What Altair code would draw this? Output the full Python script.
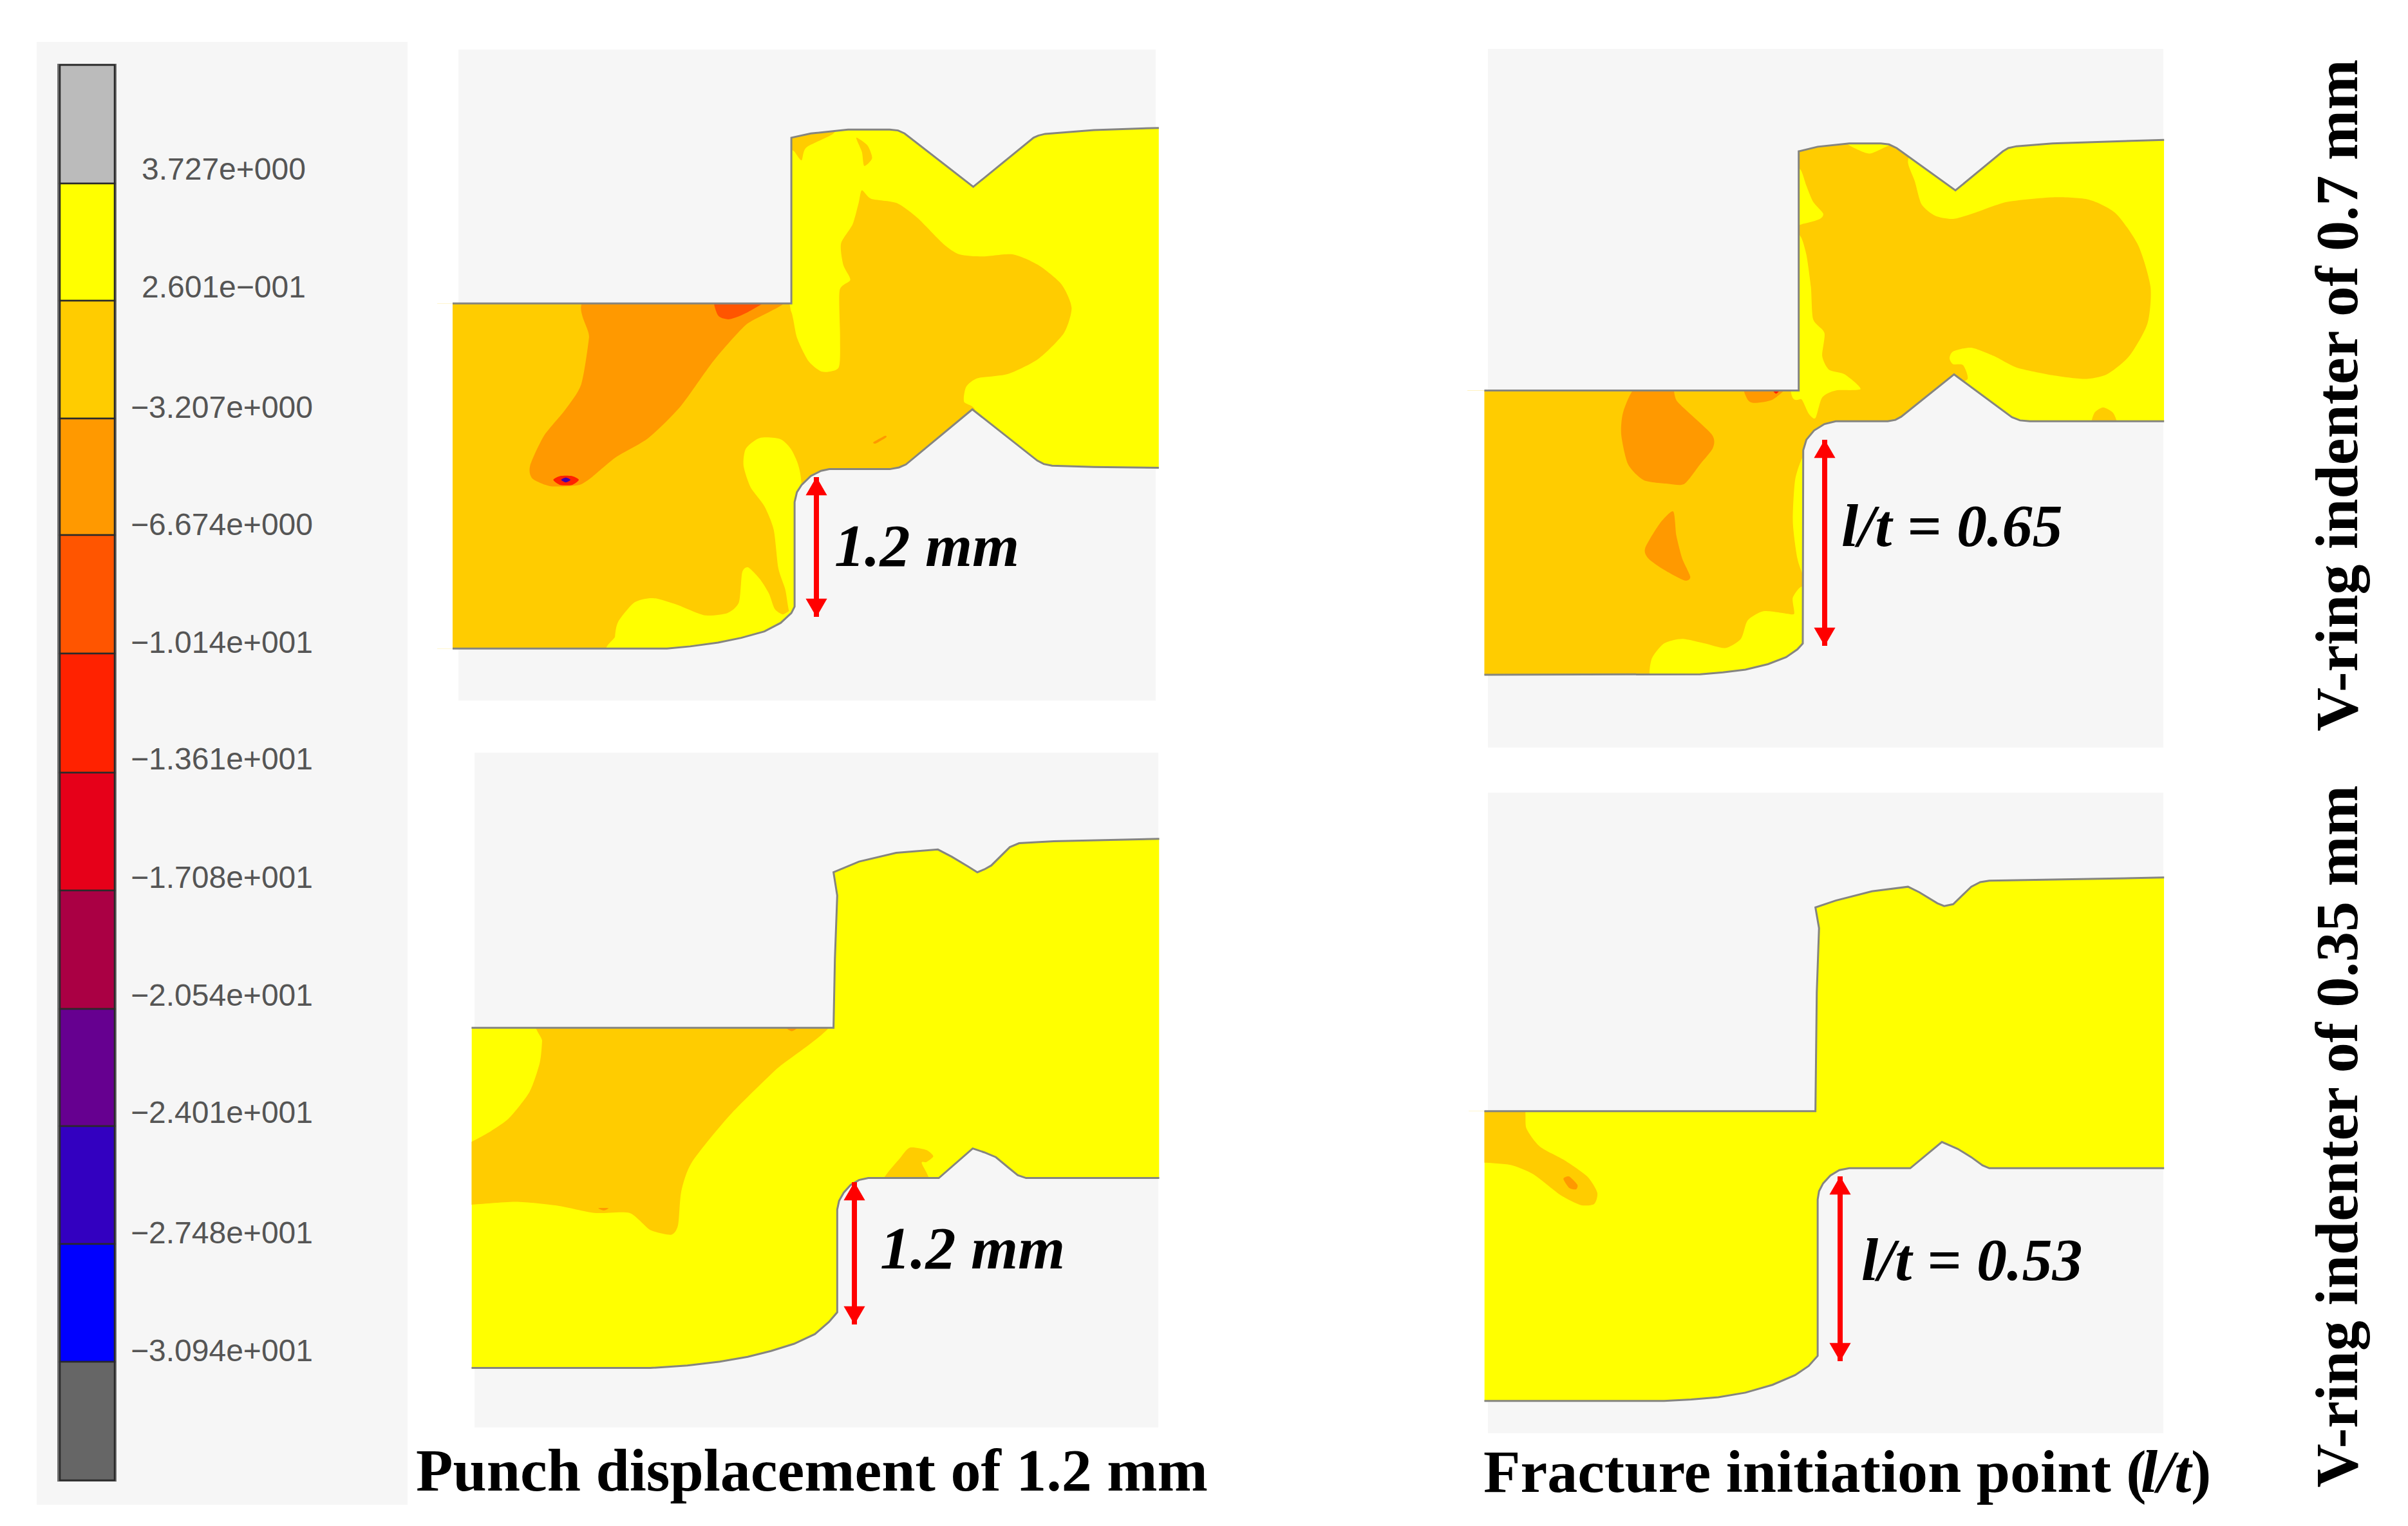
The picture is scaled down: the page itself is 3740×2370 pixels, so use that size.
import altair as alt
import pandas as pd

YEL, AMB, ORG, ROR, RED, PUR = "#FFFF00", "#FFCC00", "#FF9900", "#FF5500", "#FF2200", "#4400AA"
BG = "#F6F6F6"

# legend
LEG_COLORS = ["#BBBBBB", "#FFFF00", "#FFCC00", "#FF9900", "#FF5500", "#FF2200", "#E60019",
              "#AA0044", "#660090", "#3300C0", "#0000FF", "#666666"]
LEG_EDGES = [101, 285, 467, 650, 831, 1015, 1200, 1383, 1567, 1749, 1932, 2115, 2299]
LEG_LABELS = ["3.727e+000", "2.601e\u2212001", "\u22123.207e+000", "\u22126.674e+000", "\u22121.014e+001",
              "\u22121.361e+001", "\u22121.708e+001", "\u22122.054e+001", "\u22122.401e+001", "\u22122.748e+001",
              "\u22123.094e+001"]
LEG_LABEL_Y = [265, 448, 635, 817, 1000, 1181, 1365, 1548, 1730, 1917, 2100]
LEG_LABEL_X = [220, 220, 203, 203, 203, 203, 203, 203, 203, 203, 203]

# panel frames: (x0, y0, fx, fy) reading frame, background rectangle (image pixels)
P1_FRAME = (690, 60, 0.7207, 0.6633)
P2_FRAME = (2290, 60, 0.7015, 0.7143)
P3_FRAME = (700, 1150, 0.7207, 0.7526)
P4_FRAME = (2290, 1220, 0.7015, 0.7143)
P1_BG = (712, 77, 1795, 1088)
P2_BG = (2311, 76, 3360, 1161)
P3_BG = (737, 1169, 1799, 2217)
P4_BG = (2311, 1231, 3360, 2226)

P1_TOP = [(18,620),(748,620),(748,232),(790,222),(870,213),(960,213),(978,215),(992,222),(1140,347),(1270,232),(1280,227),(1295,223),(1400,214),(1540,209)]
P1_BOTTOM = [(1540,1005),(1400,1003),(1310,1000),(1292,996),(1278,988),(1138,868),(995,997),(980,1004),(960,1008),(830,1008),(812,1012),(790,1024),(770,1045),(760,1062),(755,1085),(755,1330),(748,1345),(725,1368),(690,1388),(640,1403),(590,1414),(530,1423),(480,1428),(18,1428)]
P1_CONTOURS = [
    (AMB, [(-10,600),(100,600),(300,600),(500,600),(720,600),(748,640),(760,700),(785,755),(815,780),(850,770),(853,700),(852,590),(875,565),(860,530),(855,480),(880,435),(893,385),(900,355),(920,375),(975,385),(1020,420),(1075,480),(1110,505),(1160,510),(1225,505),(1280,530),(1330,575),(1352,630),(1335,690),(1280,750),(1215,785),(1150,795),(1125,815),(1120,850),(1140,880),(1000,1030),(830,1030),(780,1060),(770,1100),(770,1340),(700,1400),(480,1450),(300,1450),(100,1450),(-10,1450),(-10,1300),(-10,1100),(-10,900),(-10,750)]),
    (YEL, [(770,1045),(752,970),(725,938),(680,935),(650,960),(645,1000),(660,1050),(690,1095),(710,1150),(720,1240),(735,1290),(745,1345),(770,1345)]),
    (YEL, [(370,1440),(368,1400),(375,1365),(410,1320),(450,1310),(500,1325),(560,1350),(610,1345),(635,1320),(642,1250),(655,1238),(680,1265),(700,1300),(712,1335),(730,1348),(752,1335),(770,1345),(760,1440)]),
    (AMB, [(745,225),(840,210),(835,225),(780,255),(770,285),(755,265),(745,255)]),
    (AMB, [(888,232),(912,250),(922,280),(905,298),(900,265)]),
    (ORG, [(317,605),(312,700),(295,810),(260,870),(215,930),(185,1000),(190,1030),(230,1048),(290,1045),(320,1025),(370,980),(440,935),(510,860),(580,755),(650,670),(730,605)]),
    (ROR, [(587,605),(590,648),(615,657),(655,640),(700,605)]),
    (RED, [(235,1033),(250,1024),(275,1024),(290,1033),(275,1045),(250,1045)]),
    (PUR, [(252,1033),(262,1028),(272,1033),(262,1039)]),
    (ORG, [(925,945),(950,930),(952,934),(930,948)]),
]

P2_TOP = [(22,765),(718,765),(718,245),(760,235),(830,228),(900,228),(918,230),(935,238),(1065,330),(1170,245),(1182,238),(1200,234),(1280,228),(1527,220)]
P2_BOTTOM = [(1527,832),(1380,832),(1230,832),(1208,830),(1190,823),(1062,730),(945,822),(932,829),(915,832),(800,832),(775,838),(752,852),(735,872),(728,895),(727,1315),(715,1328),(690,1345),(650,1360),(600,1372),(550,1378),(500,1382),(22,1383)]
P2_CONTOURS = [
    (AMB, [(-10,745),(100,745),(300,745),(500,745),(700,745),(700,500),(700,215),(830,215),(960,215),(960,270),(975,310),(990,360),(1020,385),(1060,392),(1110,378),(1180,355),(1280,345),(1360,350),(1420,380),(1470,450),(1497,540),(1490,620),(1450,690),(1400,730),(1350,740),(1280,732),(1200,715),(1150,690),(1100,672),(1060,680),(1052,695),(1060,708),(1082,710),(1092,740),(1062,760),(1000,860),(900,860),(760,870),(760,1100),(760,1300),(600,1400),(300,1400),(100,1400),(0,1400),(-10,1300),(-10,1200),(-10,1000),(-10,850)]),
    (YEL, [(722,285),(735,320),(750,355),(772,380),(765,392),(730,402),(700,400),(700,280)]),
    (YEL, [(722,430),(735,470),(745,540),(750,610),(775,640),(770,690),(785,720),(820,730),(855,762),(800,765),(770,780),(755,825),(740,815),(725,785),(700,760),(700,430)]),
    (YEL, [(727,910),(710,960),(705,1050),(715,1130),(730,1170),(745,1170),(745,910)]),
    (YEL, [(395,1400),(392,1350),(420,1315),(460,1305),(510,1315),(555,1325),(590,1305),(605,1265),(640,1245),(690,1250),(708,1250),(705,1215),(730,1195),(750,1330),(700,1365),(650,1385),(500,1400)]),
    (YEL, [(825,225),(850,242),(875,250),(905,238),(925,225)]),
    (ORG, [(360,755),(435,755),(450,790),(525,860),(528,890),(500,925),(465,968),(430,968),(375,960),(340,925),(325,860),(330,810)]),
    (ORG, [(440,1028),(447,1080),(460,1130),(478,1170),(465,1178),(420,1155),(385,1130),(378,1108),(410,1055)]),
    (ORG, [(600,755),(690,755),(660,785),(620,792),(605,785)]),
    (RED, [(655,755),(682,755),(668,772)]),
    (AMB, [(1368,845),(1372,815),(1392,802),(1415,815),(1422,845)]),
]

P3_TOP = [(45,593),(825,593),(828,450),(833,320),(825,272),(880,250),(960,232),(1050,225),(1080,240),(1115,260),(1135,272),(1150,266),(1165,258),(1205,220),(1225,212),(1300,208),(1527,203)]
P3_BOTTOM = [(1527,903),(1240,903),(1222,897),(1200,880),(1175,860),(1150,850),(1125,842),(1052,903),(900,903),(880,907),(862,917),(847,933),(837,950),(833,968),(833,1180),(815,1200),(785,1225),(740,1245),(690,1260),(640,1272),(580,1282),(510,1290),(430,1295),(45,1295)]
P3_CONTOURS = [
    (AMB, [(198,575),(197,620),(192,665),(170,725),(125,780),(80,810),(45,828),(10,840),(10,958),(45,958),(140,952),(230,960),(310,975),(385,975),(430,1010),(475,1020),(490,1000),(497,930),(520,870),(600,775),(700,680),(820,575),(500,575)]),
    (AMB, [(930,915),(970,860),(990,840),(1025,845),(1040,858),(1025,870),(1015,872),(1030,915)]),
    (ORG, [(720,590),(750,590),(735,600)]),
    (ORG, [(318,965),(340,965),(330,970)]),
]

P4_TOP = [(22,708),(755,708),(758,450),(763,310),(755,265),(800,250),(880,230),(960,220),(985,232),(1025,256),(1040,262),(1060,258),(1100,220),(1120,210),(1140,207),(1527,200)]
P4_BOTTOM = [(1527,832),(1140,832),(1125,826),(1100,808),(1070,790),(1035,775),(965,832),(830,832),(808,836),(788,848),(772,865),(763,882),(760,900),(760,1240),(740,1262),(710,1282),(660,1303),(600,1320),(540,1330),(480,1335),(420,1338),(22,1338)]
P4_CONTOURS = [
    (AMB, [(108,695),(115,745),(145,785),(200,815),(250,850),(272,885),(265,910),(235,912),(190,890),(130,845),(80,825),(22,820),(-10,820),(-10,760),(-10,695),(40,695)]),
    (ORG, [(197,855),(210,850),(228,868),(225,878),(210,875)]),
]

# arrows: x, top, bottom
ARROW_X = [1268, 2834, 1327, 2858]
ARROW_TOP = [741, 683, 1836, 1827]
ARROW_BOTTOM = [958, 1003, 2057, 2114]

# text
ANNOT = ["1.2 mm", "l/t = 0.65", "1.2 mm", "l/t = 0.53"]
ANNOT_X = [1296, 2860, 1367, 2891]
ANNOT_Y = [879, 848, 1970, 1988]
CAPTIONS = ["Punch displacement of 1.2 mm", "Fracture initiation point (", ")"]
CAPTION_X = [646, 2304, 3403]
CAPTION_Y = [2315, 2317, 2317]
CAPTION_IT = ["l/t"]
CAPTION_IT_X = [3325]
CAPTION_IT_Y = [2317]
SIDE = ["V-ring indenter of 0.7 mm", "V-ring indenter of 0.35 mm"]
SIDE_X = [3661, 3661]
SIDE_Y = [614, 1765]

PANELS = [
    (P1_FRAME, P1_BG, P1_TOP, P1_BOTTOM, P1_CONTOURS),
    (P2_FRAME, P2_BG, P2_TOP, P2_BOTTOM, P2_CONTOURS),
    (P3_FRAME, P3_BG, P3_TOP, P3_BOTTOM, P3_CONTOURS),
    (P4_FRAME, P4_BG, P4_TOP, P4_BOTTOM, P4_CONTOURS),
]

W, H = 3740, 2370
counter = [0]


def rows(pts, fill):
    counter[0] += 1
    pid = f"s{counter[0]:04d}"
    return [{"id": pid, "i": i, "x": x, "y": y, "fill": fill} for i, (x, y) in enumerate(pts)]


def conv(frame, pts):
    x0, y0, fx, fy = frame
    return [(x0 + px * fx, y0 + py * fy) for px, py in pts]


base, contours, masks, strokes, bgs = [], [], [], [], []
for frame, bg, top, bottom, cont in PANELS:
    t, b = conv(frame, top), conv(frame, bottom)
    base += rows(t + b, YEL)
    for fill, pts in cont:
        contours += rows(conv(frame, pts), fill)
    # white surround, then the panel's grey ground, to trim the contour fills at the outline
    xl, xr = t[0][0] - 45, t[-1][0] + 30
    yt = min(p[1] for p in t) - 45
    yb = max(p[1] for p in b) + 45
    masks += rows(t + [(xr, t[-1][1]), (xr, yt), (xl, yt), (xl, t[0][1])], "#FFFFFF")
    masks += rows(b + [(xl, b[-1][1]), (xl, yb), (xr, yb), (xr, b[0][1])], "#FFFFFF")
    masks += rows([(xl, t[0][1]), (t[0][0], t[0][1]), (t[0][0], b[-1][1]), (xl, b[-1][1])], "#FFFFFF")
    masks += rows([(xr, t[-1][1]), (t[-1][0], t[-1][1]), (t[-1][0], b[0][1]), (xr, b[0][1])], "#FFFFFF")
    L, T, R, B = bg
    tc = [(min(max(x, L), R), y) for x, y in t]
    bc = [(min(max(x, L), R), y) for x, y in b]
    masks += rows(tc + [(R, T), (L, T)], BG)
    masks += rows(bc + [(L, B), (R, B)], BG)
    strokes += rows(t, "#858580")
    strokes += rows(b, "#858580")
    bgs.append({"x": L, "x2": R, "y": T, "y2": B})

bgs.append({"x": 57, "x2": 633, "y": 65, "y2": 2337})

X = alt.X("x:Q", scale=alt.Scale(domain=[8, W - 8], nice=False, zero=False), axis=None)
Y = alt.Y("y:Q", scale=alt.Scale(domain=[8, H - 8], nice=False, zero=False, reverse=True), axis=None)


def poly(data, **kw):
    return alt.Chart(pd.DataFrame(data)).mark_line(strokeWidth=0, **kw).encode(
        x=X, y=Y, detail="id:N", order=alt.Order("i:Q"), fill=alt.Fill("fill:N", scale=None))


ground = alt.Chart(pd.DataFrame(bgs)).mark_rect(fill=BG).encode(x=X, x2="x2:Q", y=Y, y2="y2:Q")

leg_back = alt.Chart(pd.DataFrame([{"x": 89, "x2": 181, "y": LEG_EDGES[0] - 2, "y2": LEG_EDGES[-1] + 2}])).mark_rect(
    fill="#707070").encode(x=X, x2="x2:Q", y=Y, y2="y2:Q")
leg_df = pd.DataFrame([{"x": 93, "x2": 178, "y": LEG_EDGES[i], "y2": LEG_EDGES[i + 1], "c": LEG_COLORS[i]}
                       for i in range(len(LEG_COLORS))])
leg = alt.Chart(leg_df).mark_rect(stroke="#2A2A2A", strokeWidth=2.5).encode(
    x=X, x2="x2:Q", y=Y, y2="y2:Q", fill=alt.Fill("c:N", scale=None))

arrow_df = pd.DataFrame({"x": ARROW_X, "y": ARROW_TOP, "y2": ARROW_BOTTOM})
shaft = alt.Chart(arrow_df).mark_rule(color="#FF0000", strokeWidth=8).encode(x=X, y=Y, y2="y2:Q")
up_df = pd.DataFrame({"x": ARROW_X, "y": [v + 14 for v in ARROW_TOP]})
dn_df = pd.DataFrame({"x": ARROW_X, "y": [v - 14 for v in ARROW_BOTTOM]})
head_up = alt.Chart(up_df).mark_point(shape="triangle-up", filled=True, size=1100, color="#FF0000", opacity=1).encode(x=X, y=Y)
head_dn = alt.Chart(dn_df).mark_point(shape="triangle-down", filled=True, size=1100, color="#FF0000", opacity=1).encode(x=X, y=Y)


def text(labels, xs, ys, **kw):
    df = pd.DataFrame({"t": labels, "x": xs, "y": ys})
    return alt.Chart(df).mark_text(align="left", baseline="alphabetic", **kw).encode(x=X, y=Y, text="t:N")


df_leg_text = pd.DataFrame({"t": LEG_LABELS, "x": LEG_LABEL_X, "y": LEG_LABEL_Y})
leg_text = alt.Chart(df_leg_text).mark_text(align="left", baseline="middle", font="Liberation Sans",
                                            fontSize=48, color="#555555").encode(x=X, y=Y, text="t:N")
annot = text(ANNOT, ANNOT_X, ANNOT_Y, font="Liberation Serif", fontSize=94, fontWeight="bold",
             fontStyle="italic", color="#000000")
caps = text(CAPTIONS, CAPTION_X, CAPTION_Y, font="Liberation Serif", fontSize=94, fontWeight="bold", color="#000000")
caps_it = text(CAPTION_IT, CAPTION_IT_X, CAPTION_IT_Y, font="Liberation Serif", fontSize=94, fontWeight="bold",
               fontStyle="italic", color="#000000")
side = alt.Chart(pd.DataFrame({"t": SIDE, "x": SIDE_X, "y": SIDE_Y})).mark_text(
    align="center", baseline="alphabetic", angle=270, font="Liberation Serif", fontSize=94,
    fontWeight="bold", color="#000000").encode(x=X, y=Y, text="t:N")

outline = alt.Chart(pd.DataFrame(strokes)).mark_line(strokeWidth=3, color="#858580", interpolate="linear").encode(
    x=X, y=Y, detail="id:N", order=alt.Order("i:Q"))

chart = alt.layer(
    ground,
    leg_back, leg,
    poly(base, interpolate="linear-closed"),
    poly(contours, interpolate="cardinal-closed", tension=0.3),
    poly(masks, interpolate="linear-closed"),
    outline,
    shaft, head_up, head_dn,
    leg_text, annot, caps, caps_it, side,
).properties(width=W - 16, height=H - 16, padding=0,
             autosize=alt.AutoSizeParams(type="none"),
             background="#FFFFFF").configure_view(stroke=None)

chart.save("out.html", embed_options={"renderer": "svg", "actions": False})
